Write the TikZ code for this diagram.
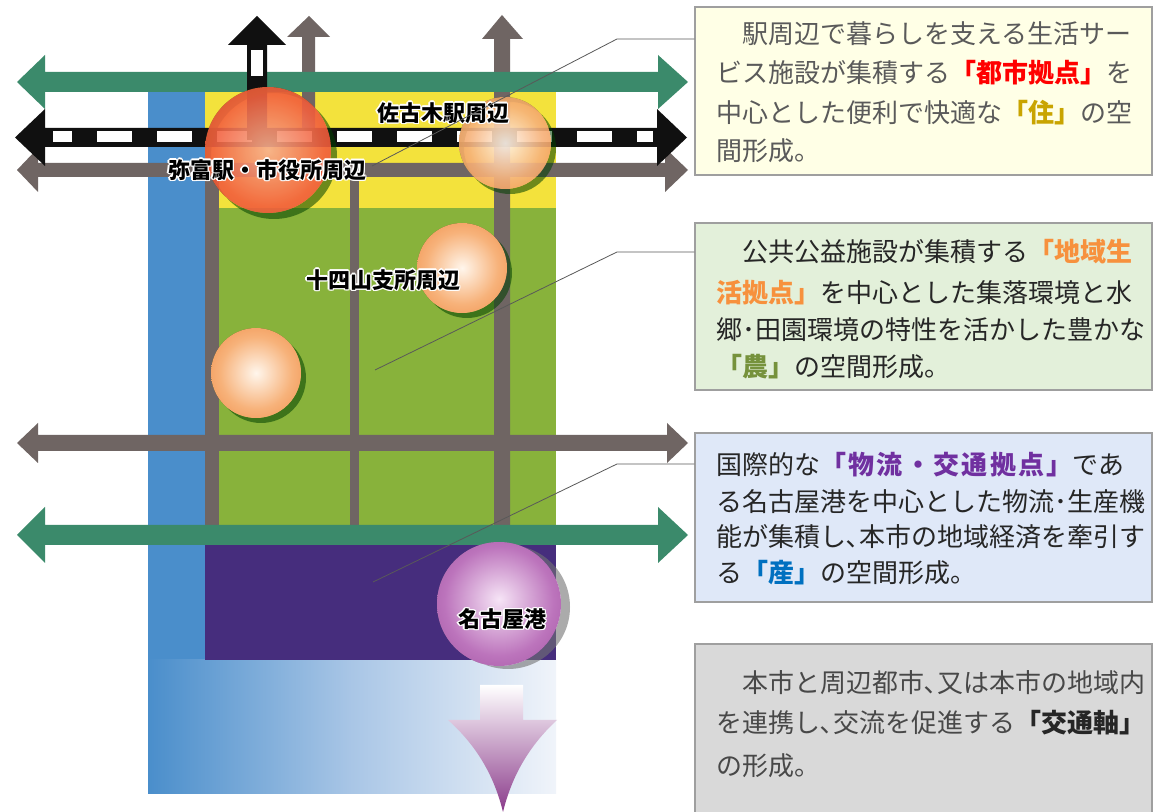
\documentclass[tikz,border=0pt]{standalone}
\usepackage{fontspec}
\newfontfamily\cjk{Noto Sans CJK JP}
\usetikzlibrary{calc,fit}
\definecolor{greenarr}{HTML}{3B8A6B}
\definecolor{roadgray}{HTML}{6F6563}
\definecolor{yellowA}{HTML}{F3E23C}
\definecolor{greenA}{HTML}{88B23B}
\definecolor{blueband}{HTML}{4A8ECB}
\definecolor{bluelight}{HTML}{F0F4FA}
\definecolor{bluemid}{HTML}{A9C6E6}
\definecolor{purpleA}{HTML}{462D7D}
\definecolor{railblack}{HTML}{101010}
\definecolor{redhi}{HTML}{F8B090}
\definecolor{redmid}{HTML}{F2603E}
\definecolor{rededge}{HTML}{DB361C}
\definecolor{orahi}{HTML}{FFF6EC}
\definecolor{oramid}{HTML}{F7B27A}
\definecolor{oraedge}{HTML}{EC7B30}
\definecolor{purhi}{HTML}{F6E4F6}
\definecolor{purmid}{HTML}{BC74BC}
\definecolor{puredge}{HTML}{8E3C8E}
\definecolor{arrpur}{HTML}{8A3A8A}
\definecolor{arrmid}{HTML}{B070B0}
\definecolor{boxA}{HTML}{FFFFE6}
\definecolor{boxB}{HTML}{E3F0DA}
\definecolor{boxC}{HTML}{DFE8F8}
\definecolor{boxD}{HTML}{D9D9D9}
\definecolor{hlred}{HTML}{FF0000}
\definecolor{hlyel}{HTML}{C9A400}
\definecolor{hlora}{HTML}{F7913D}
\definecolor{hlolive}{HTML}{76923C}
\definecolor{hlpur}{HTML}{7030A0}
\definecolor{hlblue}{HTML}{0070C0}
\definecolor{txtgray}{HTML}{5A5A5A}
\definecolor{txtdark}{HTML}{262626}
\pgfdeclareradialshading{redball}{\pgfpoint{0bp}{0bp}}{color(0bp)=(redhi); color(22bp)=(redmid); color(44bp)=(rededge); color(50bp)=(rededge)}
\pgfdeclareradialshading{oraball}{\pgfpoint{0bp}{0bp}}{color(0bp)=(orahi); color(20bp)=(oramid); color(44bp)=(oraedge); color(50bp)=(oraedge)}
\pgfdeclareradialshading{purball}{\pgfpoint{0bp}{2bp}}{color(0bp)=(purhi); color(22bp)=(purmid); color(46bp)=(puredge); color(50bp)=(puredge)}
\newcommand\hlt[2]{{\bfseries\color{#1}#2}}
\newcommand\hltw[2]{{\bfseries\addfontfeature{LetterSpace=9}\color{#1}#2}}
\newcommand\harrow[8]{%
  \fill[#1] (#5,#2) -- (#6,#2-#4) -- (#6,#2-#3) -- (#7,#2-#3) -- (#7,#2-#4) -- (#8,#2)
   -- (#7,#2+#4) -- (#7,#2+#3) -- (#6,#2+#3) -- (#6,#2+#4) -- cycle;}
\newcommand\maplabel[3]{%
  \foreach \dx/\dy in {-1.4/0,1.4/0,0/-1.4,0/1.4,-1/-1,1/1,-1/1,1/-1}{\node[lbl,text=white] at ($(#2)+(\dx,\dy)$) {#3};}
  \node[lbl] (#1) at (#2) {#3};}
\tikzset{
  lbl/.style={inner sep=0, text=black, font=\cjk\bfseries\fontsize{16.5}{18}\selectfont},
  infobox/.style={draw=gray!75, line width=1.1pt, inner sep=0},
  boxtxt/.style={anchor=base west, inner sep=0, font=\cjk\fontsize{19.5}{24}\selectfont},
  leader/.style={draw=gray!70!black, line width=0.6pt},
  ballshadow/.style={fill=black!75!green, fill opacity=0.55},
}
\begin{document}
\begin{tikzpicture}[x=0.75pt,y=-0.75pt]
\useasboundingbox (0,0) rectangle (1154,812);
\fill[white] (0,0) rectangle (1154,812);
% land areas
\fill[blueband] (148,92) rectangle (205,660);
\shade[left color=blueband, right color=bluelight, middle color=bluemid] (148,660) rectangle (556,793);
\fill[yellowA] (205,92) rectangle (556,208);
\fill[greenA] (205,208) rectangle (556,545);
\fill[purpleA] (205,545) rectangle (556,660);
% vertical roads
\fill[roadgray] (205,170) rectangle (219,526);
\fill[roadgray] (350,170) rectangle (359,526);
\fill[roadgray] (494,39) -- (482,39) -- (502,15) -- (523,39) -- (510,39) -- (510,526) -- (494,526) -- cycle;
\fill[roadgray] (302,37) -- (287,37) -- (309,16) -- (330,37) -- (315,37) -- (315,130) -- (302,130) -- cycle;
% horizontal axes
\harrow{roadgray}{170}{7}{22}{17}{38}{665}{688}
\harrow{roadgray}{443}{8}{20}{17}{38}{667}{688}
\harrow{greenarr}{82}{10}{27}{17}{45}{658}{688}
\harrow{greenarr}{535}{10}{28}{17}{45}{658}{688}
% railway
\harrow{railblack}{137.5}{9.5}{28.5}{15}{45}{657}{687}
\fill[white] (53,131) rectangle (72,142);
\foreach \x in {97,157,...,577} {\fill[white] (\x,131) rectangle ++(35,11);}
\fill[white] (637,131) rectangle (653,142);
% black up arrow
\fill[railblack] (247,45) -- (228,45) -- (257,16) -- (286,45) -- (267,45) -- (267,140) -- (247,140) -- cycle;
\fill[white] (251,50) rectangle (263,76);
% bottom arrow
\shade[top color=white, middle color=arrmid, bottom color=arrpur] (480,685) -- (523,685) -- (523,720) -- (557,720)
  .. controls (530,745) and (512,775) .. (503,812) .. controls (494,775) and (476,745) .. (448,720) -- (480,720) -- cycle;
% balls
\fill[ballshadow, even odd rule] (274,156) circle[radius=63] (268,150) circle[radius=63];
\shade[shading=redball, opacity=0.9] (268,150) circle[radius=63];
\fill[ballshadow, even odd rule] (510,148) circle[radius=46] (505,143) circle[radius=46];
\shade[shading=oraball, opacity=0.9] (505,143) circle[radius=46];
\fill[ballshadow, even odd rule] (467,273) circle[radius=45] (462,268) circle[radius=45];
\shade[shading=oraball] (462,268) circle[radius=45];
\fill[ballshadow, even odd rule] (261,378) circle[radius=45] (256,373) circle[radius=45];
\shade[shading=oraball] (256,373) circle[radius=45];
\fill[black!55, fill opacity=0.6, even odd rule] (508,607) circle[radius=62] (499,604) circle[radius=62];
\shade[shading=purball] (499,604) circle[radius=62];
% map labels
\maplabel{lsako}{443,113}{佐古木駅周辺}
\maplabel{lyato}{267,170}{弥富駅・市役所周辺}
\maplabel{ljus}{383,280}{十四山支所周辺}
\maplabel{lnag}{502,619}{名古屋港}
% info boxes
\node[infobox, fill=boxA, fit={(695,7) (1152,175)}] (b1) {};
\node[infobox, fill=boxB, fit={(695,223) (1152,390)}] (b2) {};
\node[infobox, fill=boxC, fit={(695,433) (1152,602)}] (b3) {};
\node[infobox, fill=boxD, fit={(695,644) (1152,830)}] (b4) {};
% leader lines
\coordinate (k1) at (617,39);  \coordinate (e1) at (372,166);
\coordinate (k2) at (617,252); \coordinate (e2) at (375,370);
\coordinate (k3) at (617,464); \coordinate (e3) at (373,582);
\draw[leader] (b1.west |- k1) -- (k1) -- (e1);
\draw[leader] (b2.west |- k2) -- (k2) -- (e2);
\draw[leader] (b3.west |- k3) -- (k3) -- (e3);
% box texts
\begin{scope}[every node/.append style={text=txtgray}]
\node[boxtxt] (t11) at (716,44) {　駅周辺で暮らしを支える生活サー};
\node[boxtxt] (t12) at (716,83) {ビス施設が集積する\hlt{hlred}{「都市拠点」}を};
\node[boxtxt] (t13) at (716,123) {中心とした便利で快適な\hlt{hlyel}{「住」}の空};
\node[boxtxt] (t14) at (716,161) {間形成。};
\end{scope}
\begin{scope}[every node/.append style={text=txtdark}]
\node[boxtxt] (t21) at (716,262) {　公共公益施設が集積する\hlt{hlora}{「地域生}};
\node[boxtxt] (t22) at (716,303) {\hlt{hlora}{活拠点」}を中心とした集落環境と水};
\node[boxtxt] (t23) at (716,340) {郷･田園環境の特性を活かした豊かな};
\node[boxtxt] (t24) at (716,377) {\hlt{hlolive}{「農」}の空間形成。};
\node[boxtxt] (t31) at (716,475) {国際的な\hltw{hlpur}{「物流・交通拠点」}であ};
\node[boxtxt] (t32) at (716,512) {る名古屋港を中心とした物流･生産機};
\node[boxtxt] (t33) at (716,547) {能が集積し､本市の地域経済を牽引す};
\node[boxtxt] (t34) at (716,583) {る\hlt{hlblue}{「産」}の空間形成。};
\end{scope}
\begin{scope}[every node/.append style={text=txtgray!80!black}]
\node[boxtxt] (t41) at (716,693) {　本市と周辺都市､又は本市の地域内};
\node[boxtxt] (t42) at (716,733) {を連携し､交流を促進する\hlt{txtdark}{「交通軸」}};
\node[boxtxt] (t43) at (716,775) {の形成。};
\end{scope}
\end{tikzpicture}
\end{document}
